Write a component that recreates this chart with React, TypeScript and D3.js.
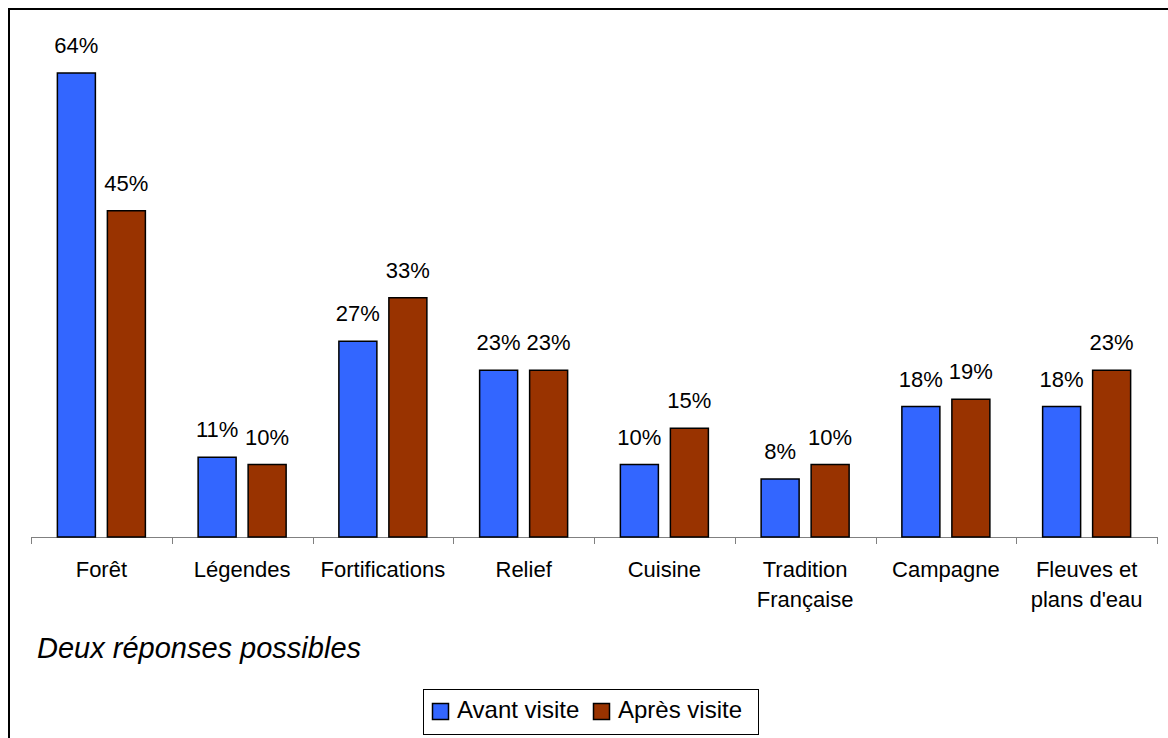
import React from "react";
import * as d3 from "d3";

const categories: string[][] = [
  ["Forêt"],
  ["Légendes"],
  ["Fortifications"],
  ["Relief"],
  ["Cuisine"],
  ["Tradition", "Française"],
  ["Campagne"],
  ["Fleuves et", "plans d'eau"],
];
const avantVisite = [64, 11, 27, 23, 10, 8, 18, 18];
const apresVisite = [45, 10, 33, 23, 15, 10, 19, 23];
const seriesNames = ["Avant visite", "Après visite"];
const seriesColors = ["#3366FF", "#993300"];

const W = 1168;
const H = 738;
const FONT = "'Liberation Sans', Arial, sans-serif";

export default function App() {
  const keys = categories.map((_, i) => String(i));
  const x0 = d3.scaleBand<string>().domain(keys).range([31, 1157]).padding(0);
  const bw = x0.bandwidth();
  const barW = 38;
  const gap = 12;
  const step = barW + gap;
  const pi = gap / step;
  const po = (bw / step - (2 - pi)) / 2;
  const x1 = d3
    .scaleBand<string>()
    .domain(seriesNames)
    .range([0, bw])
    .paddingInner(pi)
    .paddingOuter(po);
  const y = d3.scaleLinear().domain([0, 70]).range([537, 29.5]);
  const data = [avantVisite, apresVisite];
  const baseY = y(0);

  return (
    <svg
      width={W}
      height={H}
      style={{ position: "absolute", left: 0, top: 0, background: "#fff" }}
      fontFamily={FONT}
    >
      <rect x={0} y={0} width={W} height={H} fill="#fff" />
      <rect x={9} y={9} width={W + 20} height={H + 20} fill="none" stroke="#000" strokeWidth={2} />

      {/* axis */}
      <line x1={31} x2={1157} y1={baseY + 0.5} y2={baseY + 0.5} stroke="#808080" strokeWidth={1} />
      {d3.range(categories.length + 1).map((i) => {
        const tx = Math.round(31 + i * bw) + 0.5;
        return (
          <line key={"t" + i} x1={tx} x2={tx} y1={baseY} y2={baseY + 7} stroke="#808080" strokeWidth={1} />
        );
      })}

      {/* bars */}
      {keys.map((k, ci) => (
        <g key={"c" + k} transform={`translate(${x0(k)},0)`}>
          {seriesNames.map((s, si) => {
            const v = data[si][ci];
            const bx = x1(s)!;
            const by = y(v);
            return (
              <g key={s}>
                <rect
                  x={bx}
                  y={by}
                  width={x1.bandwidth()}
                  height={baseY - by}
                  fill={seriesColors[si]}
                  stroke="#000"
                  strokeWidth={1.5}
                />
                <text
                  x={bx + x1.bandwidth() / 2}
                  y={by - 20}
                  textAnchor="middle"
                  fontSize={22}
                  fill="#000"
                >
                  {v}%
                </text>
              </g>
            );
          })}
        </g>
      ))}

      {/* category labels */}
      {keys.map((k, ci) => (
        <text
          key={"l" + k}
          x={x0(k)! + bw / 2}
          y={577}
          textAnchor="middle"
          fontSize={22}
          fill="#000"
        >
          {categories[ci].map((line, li) => (
            <tspan key={li} x={x0(k)! + bw / 2} dy={li === 0 ? 0 : 30}>
              {line}
            </tspan>
          ))}
        </text>
      ))}

      <text x={37} y={658} fontSize={29} fontStyle="italic" fill="#000">
        Deux réponses possibles
      </text>

      {/* legend */}
      <rect x={423.5} y={689.5} width={335} height={45} fill="#fff" stroke="#000" strokeWidth={1} />
      {seriesNames.map((s, si) => {
        const lx = si === 0 ? 432 : 593;
        return (
          <g key={"lg" + s}>
            <rect x={lx + 0.5} y={703.5} width={16} height={16} fill={seriesColors[si]} stroke="#000" strokeWidth={1.5} />
            <text x={lx + 25} y={718} fontSize={24} fill="#000">
              {s}
            </text>
          </g>
        );
      })}
    </svg>
  );
}
